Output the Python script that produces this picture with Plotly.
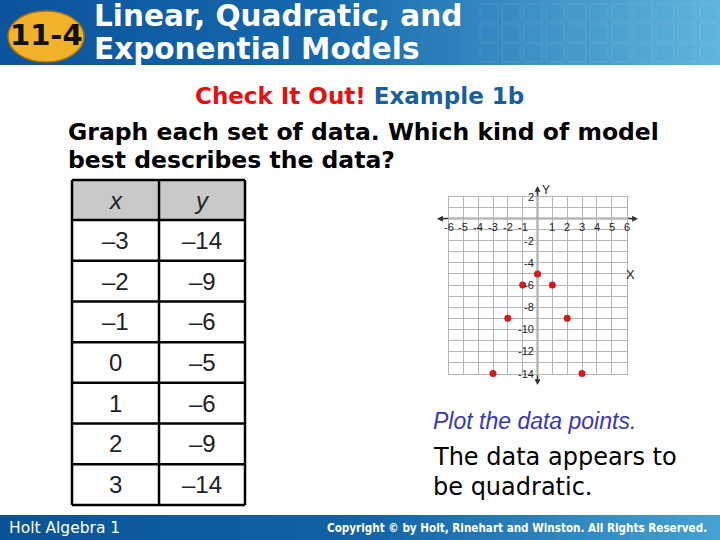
import plotly.graph_objects as go

# ---------------- data ----------------
x_vals = [-3, -2, -1, 0, 1, 2, 3]
y_vals = [-14, -9, -6, -5, -6, -9, -14]
x_tick_labels = ["-6", "-5", "-4", "-3", "-2", "-1", "1", "2", "3", "4", "5", "6"]
x_tick_pos = [-6, -5, -4, -3, -2, -1, 1, 2, 3, 4, 5, 6]
y_tick_labels = ["2", "-2", "-4", "-6", "-8", "-10", "-12", "-14"]
y_tick_pos = [2, -2, -4, -6, -8, -10, -12, -14]

W, H = 720, 540
def px(x):
    return x / W
def py(y):
    return 1 - y / H

def fmt(v):
    return f"–{abs(v)}" if v < 0 else str(v)

def txt(x, y, text, size, color="black", family="DejaVu Sans", xa="center", ya="middle", **kw):
    d = dict(x=px(x), y=py(y), xref="paper", yref="paper", text=text, showarrow=False,
             xanchor=xa, yanchor=ya, font=dict(family=family, size=size, color=color))
    d.update(kw)
    return d

fig = go.Figure()
fig.add_trace(go.Scatter(x=x_vals, y=y_vals, mode="markers", cliponaxis=False,
                         marker=dict(color="#d11a1a", size=7), showlegend=False,
                         hoverinfo="skip"))

shapes = []
annotations = []

def lerp(c1, c2, t):
    return "rgb(%d,%d,%d)" % tuple(round(a + (b - a) * t) for a, b in zip(c1, c2))

# header gradient
n = 72
c_left, c_mid, c_right = (12, 84, 156), (22, 104, 172), (95, 180, 220)
for i in range(n):
    t = i / (n - 1)
    if t < 0.45:
        col = lerp(c_left, c_mid, t / 0.45)
    else:
        col = lerp(c_mid, c_right, (t - 0.45) / 0.55)
    shapes.append(dict(type="rect", xref="paper", yref="paper",
                       x0=px(i * W / n), x1=px((i + 1) * W / n + 0.5),
                       y0=py(65), y1=py(0), fillcolor=col, line=dict(width=0), layer="below"))
# faint squares in header
for gx in range(480, 720, 22):
    for gy in (4, 24, 44):
        shapes.append(dict(type="rect", xref="paper", yref="paper",
                           x0=px(gx), x1=px(gx + 18), y0=py(gy + 18), y1=py(gy),
                           fillcolor="rgba(0,0,0,0)", line=dict(color="rgba(255,255,255,0.09)", width=1),
                           layer="below"))

# footer gradient
m = 48
f_left, f_mid, f_right = (10, 84, 150), (18, 98, 165), (70, 160, 210)
for i in range(m):
    t = i / (m - 1)
    col = lerp(f_left, f_mid, t / 0.5) if t < 0.5 else lerp(f_mid, f_right, (t - 0.5) / 0.5)
    shapes.append(dict(type="rect", xref="paper", yref="paper",
                       x0=px(i * W / m), x1=px((i + 1) * W / m + 0.5),
                       y0=py(540), y1=py(515), fillcolor=col,
                       line=dict(width=0), layer="below"))

# badge
shapes.append(dict(type="circle", xref="paper", yref="paper",
                   x0=px(8), x1=px(84), y0=py(62), y1=py(11),
                   fillcolor="#f2b12a", line=dict(color="#a8740e", width=1.5)))
annotations.append(txt(46, 35, "<b>11-4</b>", 29, "#111111"))
# title
annotations.append(txt(92, 16, "<b>Linear, Quadratic, and</b>", 29.5, "white", xa="left"))
annotations.append(txt(92, 49, "<b>Exponential Models</b>", 29.5, "white", xa="left"))

# subtitle
annotations.append(txt(359, 96, "<b><span style='color:#e01212'>Check It Out!</span> "
                                "<span style='color:#1a5f9a'>Example 1b</span></b>", 23))
annotations.append(txt(66, 132, "<b>Graph each set of data. Which kind of model</b>", 23.5, xa="left"))
annotations.append(txt(66, 160, "<b>best describes the data?</b>", 23.5, xa="left"))

# table
tx0, tx1, tx2 = 72, 159, 245
ty_top, ty_head = 180, 220
ty_bot = 505
row_h = (ty_bot - ty_head) / len(x_vals)
shapes.append(dict(type="rect", xref="paper", yref="paper", x0=px(tx0), x1=px(tx2),
                   y0=py(ty_head), y1=py(ty_top), fillcolor="#c9c9c9", line=dict(width=0)))
lw = 2.5
hlines = [ty_top, ty_head] + [ty_head + row_h * (i + 1) for i in range(len(x_vals))]
for yy in hlines:
    shapes.append(dict(type="line", xref="paper", yref="paper", x0=px(tx0), x1=px(tx2),
                       y0=py(yy), y1=py(yy), line=dict(color="black", width=lw)))
for xx in (tx0, tx1, tx2):
    shapes.append(dict(type="line", xref="paper", yref="paper", x0=px(xx), x1=px(xx),
                       y0=py(ty_top), y1=py(ty_bot), line=dict(color="black", width=lw)))
cx1, cx2 = (tx0 + tx1) / 2, (tx1 + tx2) / 2
annotations.append(txt(cx1, (ty_top + ty_head) / 2, "<i>x</i>", 24, "#222", "Liberation Sans"))
annotations.append(txt(cx2, (ty_top + ty_head) / 2, "<i>y</i>", 24, "#222", "Liberation Sans"))
for i, (xv, yv) in enumerate(zip(x_vals, y_vals)):
    yc = ty_head + row_h * (i + 0.5)
    annotations.append(txt(cx1, yc, fmt(xv), 24, "#222", "Liberation Sans"))
    annotations.append(txt(cx2, yc, fmt(yv), 24, "#222", "Liberation Sans"))

# coordinate plane axes (extend beyond grid)
axis_col = "#333333"
shapes.append(dict(type="line", xref="paper", yref="y", x0=px(441), x1=px(634), y0=0, y1=0,
                   line=dict(color=axis_col, width=1.5), layer="below"))
shapes.append(dict(type="line", xref="x", yref="paper", x0=0, x1=0, y0=py(382), y1=py(189),
                   line=dict(color=axis_col, width=1.5), layer="below"))
for (hx, hy, ax, ay) in [(638, 218.7, -9, 0), (437, 218.7, 9, 0), (537.5, 186, 0, 9), (537.5, 385, 0, -9)]:
    annotations.append(dict(x=px(hx), y=py(hy), xref="paper", yref="paper", text="",
                            showarrow=True, arrowhead=2, arrowsize=0.9, arrowwidth=1.3,
                            arrowcolor=axis_col, ax=ax, ay=ay))
for lab, pos in zip(x_tick_labels, x_tick_pos):
    annotations.append(dict(x=pos, y=0, xref="x", yref="y", text=lab, showarrow=False,
                            xanchor="center", yanchor="middle", yshift=-8,
                            font=dict(family="Liberation Sans", size=11, color="#222")))
for lab, pos in zip(y_tick_labels, y_tick_pos):
    annotations.append(dict(x=px(536), y=pos, xref="paper", yref="y", text=lab, showarrow=False,
                            xanchor="right", yanchor="middle",
                            font=dict(family="Liberation Sans", size=11, color="#222")))
annotations.append(txt(546, 190, "Y", 12, "#222", "Liberation Sans"))
annotations.append(txt(630, 274, "X", 13, "#222", "Liberation Sans"))

# right-side text
annotations.append(txt(431, 421, "<i>Plot the data points.</i>", 23, "#3838b4", "Liberation Sans", xa="left"))
annotations.append(txt(431, 457, "The data appears to", 24, "black", xa="left"))
annotations.append(txt(431, 487, "be quadratic.", 24, "black", xa="left"))

# footer text
annotations.append(txt(7, 528, "Holt Algebra 1", 15.5, "white", xa="left"))
annotations.append(txt(709, 528, "<b>Copyright © by Holt, Rinehart and Winston. All Rights Reserved.</b>",
                       11.6, "white", "DejaVu Sans Condensed", xa="right"))

fig.update_layout(
    width=W, height=H, margin=dict(l=0, r=0, t=0, b=0),
    paper_bgcolor="white", plot_bgcolor="white",
    shapes=shapes, annotations=annotations, showlegend=False,
    xaxis=dict(domain=[px(448.5), px(626.5)], range=[-6, 6], dtick=1, tick0=0,
               showgrid=True, gridcolor="#b5b5b5", gridwidth=1, zeroline=False,
               showticklabels=False, ticks="", showline=True, linecolor="#b5b5b5",
               mirror=True, fixedrange=True, layer="below traces"),
    yaxis=dict(domain=[py(373.5), py(196.5)], range=[-14, 2], dtick=1, tick0=0,
               showgrid=True, gridcolor="#b5b5b5", gridwidth=1, zeroline=False,
               showticklabels=False, ticks="", showline=True, linecolor="#b5b5b5",
               mirror=True, fixedrange=True, layer="below traces"),
)
fig.write_html("out.html", config={"displayModeBar": False},
               post_script="document.body.style.margin='0';")
